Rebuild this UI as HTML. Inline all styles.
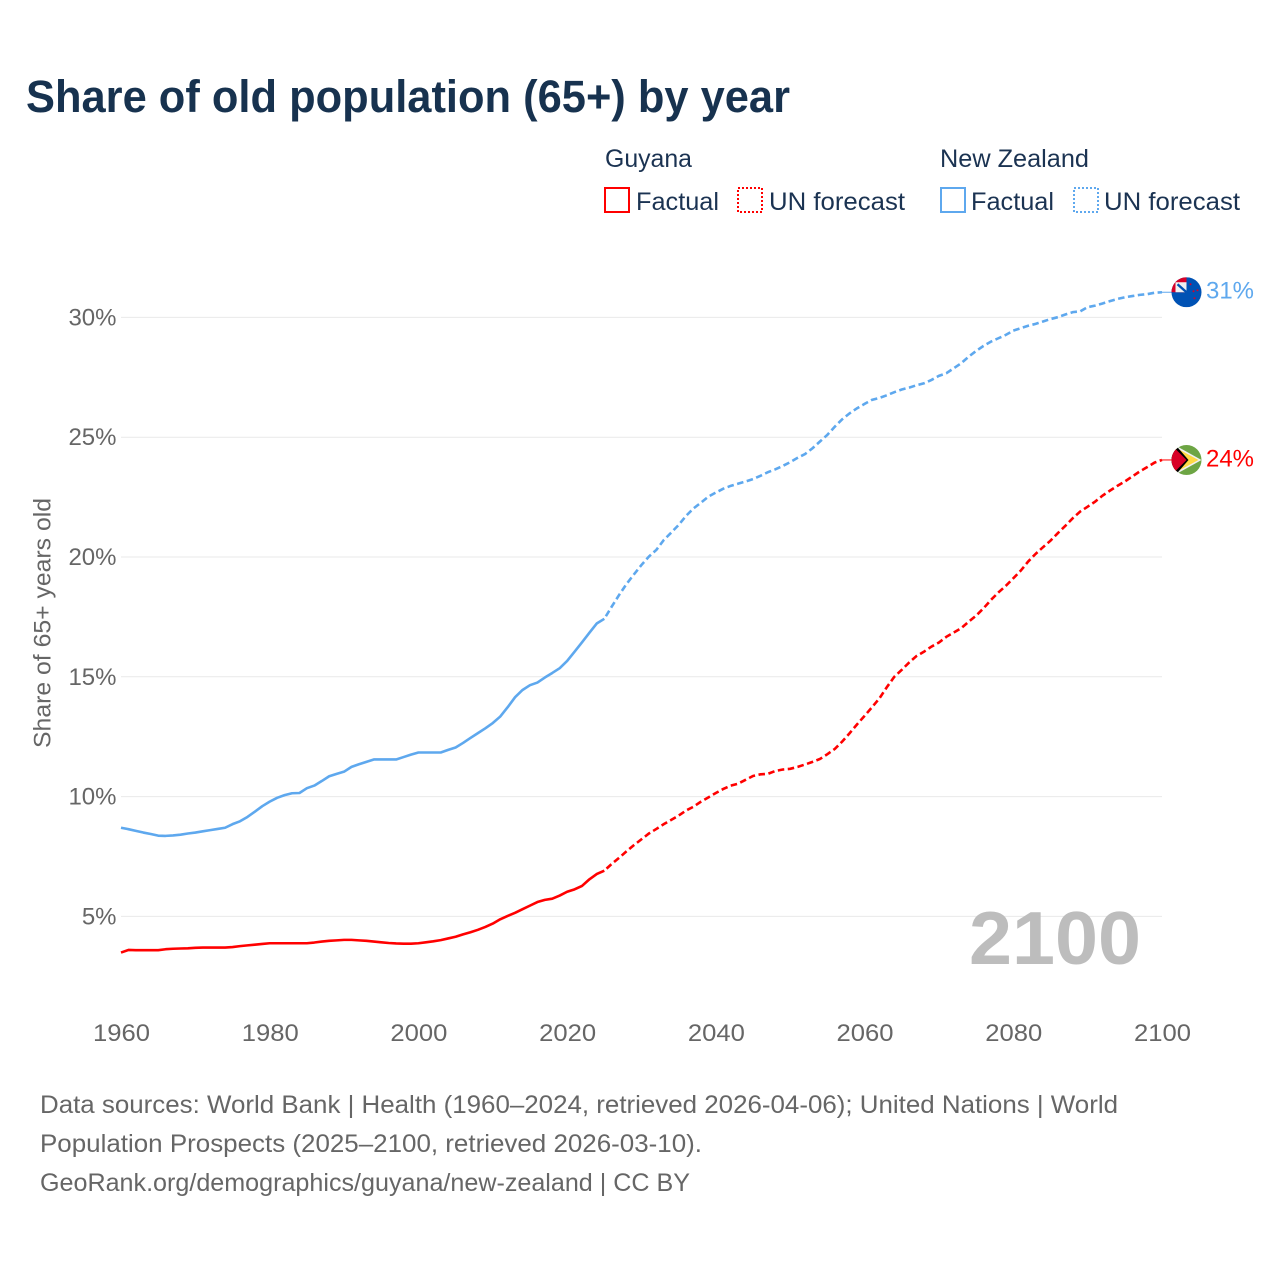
<!DOCTYPE html>
<html lang="en">
<head>
<meta charset="utf-8">
<title>Share of old population (65+) by year</title>
<style>
html,body{margin:0;padding:0;background:#fff;}
svg{display:block;font-family:"Liberation Sans",sans-serif;}
</style>
</head>
<body>
<svg id="chart" xmlns="http://www.w3.org/2000/svg" width="1280" height="1280" viewBox="0 0 1280 1280">
  <rect x="0" y="0" width="1280" height="1280" fill="#fff"/>
  <text x="26" y="112" font-size="45" font-weight="700" fill="#17324f" textLength="764" lengthAdjust="spacingAndGlyphs">Share of old population (65+) by year</text>

  <g font-size="25" fill="#1b3352">
    <text x="605" y="167" textLength="87" lengthAdjust="spacingAndGlyphs">Guyana</text>
    <text x="940" y="167" textLength="149" lengthAdjust="spacingAndGlyphs">New Zealand</text>
    <g>
      <rect x="605" y="188" width="24" height="24" fill="none" stroke="#ff0000" stroke-width="2"/>
      <text x="636" y="210" textLength="83" lengthAdjust="spacingAndGlyphs">Factual</text>
    </g>
    <g>
      <rect x="738" y="188" width="24" height="24" fill="none" stroke="#ff0000" stroke-width="2" stroke-dasharray="2 2"/>
      <text x="769" y="210" textLength="136" lengthAdjust="spacingAndGlyphs">UN forecast</text>
    </g>
    <g>
      <rect x="941" y="188" width="24" height="24" fill="none" stroke="#5ea8ee" stroke-width="2"/>
      <text x="971" y="210" textLength="83" lengthAdjust="spacingAndGlyphs">Factual</text>
    </g>
    <g>
      <rect x="1074" y="188" width="24" height="24" fill="none" stroke="#5ea8ee" stroke-width="2" stroke-dasharray="2 2"/>
      <text x="1104" y="210" textLength="136" lengthAdjust="spacingAndGlyphs">UN forecast</text>
    </g>
  </g>

  <g id="grid"></g>
  <g id="yLabels"></g>
  <g id="xLabels"></g>
  <text transform="translate(50.5,623) rotate(-90)" text-anchor="middle" font-size="24.5" fill="#666" textLength="250" lengthAdjust="spacingAndGlyphs">Share of 65+ years old</text>
  <text id="yearWatermark" x="969" y="964" font-size="75" font-weight="700" fill="#bdbdbd" textLength="172" lengthAdjust="spacingAndGlyphs"></text>

  <g id="series"></g>
  <g id="endMarks"></g>

  <g font-size="25" fill="#666">
    <text x="40" y="1113" textLength="1078" lengthAdjust="spacingAndGlyphs">Data sources: World Bank | Health (1960–2024, retrieved 2026-04-06); United Nations | World</text>
    <text x="40" y="1152" textLength="662" lengthAdjust="spacingAndGlyphs">Population Prospects (2025–2100, retrieved 2026-03-10).</text>
    <text x="40" y="1191" textLength="650" lengthAdjust="spacingAndGlyphs">GeoRank.org/demographics/guyana/new-zealand | CC BY</text>
  </g>

  <defs>
    <clipPath id="flagClipNz"><circle cx="15" cy="15" r="15"/></clipPath>
    <clipPath id="flagClipGy"><circle cx="15" cy="15" r="15"/></clipPath>
  </defs>
</svg>

<script>
var yTicks = [5, 10, 15, 20, 25, 30];
var xTicks = [1960, 1980, 2000, 2020, 2040, 2060, 2080, 2100];
var factualStartYear = [1960];
var forecastStartYear = [2025];

var guyanaFactual = [3.49,3.6,3.59,3.59,3.59,3.59,3.63,3.65,3.66,3.67,3.69,3.7,3.7,3.7,3.7,3.72,3.76,3.79,3.82,3.85,3.88,3.88,3.88,3.88,3.88,3.88,3.91,3.95,3.98,4.0,4.02,4.02,4.0,3.98,3.95,3.92,3.89,3.87,3.86,3.86,3.88,3.92,3.96,4.01,4.08,4.15,4.25,4.34,4.44,4.56,4.7,4.88,5.02,5.15,5.3,5.45,5.6,5.69,5.74,5.87,6.03,6.13,6.27,6.55,6.77,6.91];
var guyanaForecast = [6.91,7.19,7.45,7.72,7.98,8.22,8.46,8.65,8.85,9.03,9.21,9.42,9.58,9.79,9.97,10.15,10.32,10.46,10.54,10.7,10.86,10.93,10.95,11.07,11.13,11.16,11.24,11.34,11.45,11.57,11.77,11.99,12.3,12.65,13.02,13.37,13.73,14.1,14.57,15.0,15.29,15.6,15.87,16.05,16.26,16.43,16.67,16.85,17.03,17.3,17.55,17.86,18.21,18.52,18.8,19.11,19.43,19.81,20.13,20.41,20.68,21.0,21.3,21.62,21.9,22.1,22.31,22.56,22.77,22.97,23.15,23.36,23.57,23.75,23.94,24.05];
var newZealandFactual = [8.7,8.64,8.57,8.5,8.44,8.37,8.36,8.38,8.41,8.46,8.5,8.55,8.6,8.65,8.7,8.85,8.97,9.15,9.37,9.6,9.79,9.95,10.06,10.14,10.15,10.35,10.46,10.65,10.85,10.95,11.04,11.24,11.35,11.45,11.55,11.55,11.55,11.55,11.65,11.75,11.84,11.84,11.84,11.84,11.95,12.05,12.24,12.45,12.65,12.85,13.07,13.34,13.73,14.15,14.45,14.65,14.76,14.97,15.16,15.36,15.66,16.05,16.44,16.84,17.23,17.42];
var newZealandForecast = [17.42,17.93,18.42,18.88,19.28,19.67,20.02,20.3,20.71,21.02,21.34,21.72,22.03,22.27,22.52,22.69,22.85,22.97,23.06,23.15,23.25,23.39,23.54,23.66,23.8,23.96,24.14,24.3,24.54,24.82,25.1,25.44,25.75,26.0,26.21,26.39,26.56,26.64,26.75,26.88,26.99,27.07,27.17,27.25,27.39,27.56,27.67,27.88,28.09,28.36,28.6,28.81,28.99,29.13,29.27,29.45,29.55,29.65,29.73,29.83,29.93,30.01,30.12,30.22,30.25,30.43,30.49,30.58,30.68,30.77,30.84,30.89,30.94,30.97,31.03,31.05];

var SVG_NS = 'http://www.w3.org/2000/svg';
var RED = '#ff0000';
var BLUE = '#5ea8ee';

function xScale(year) { return 121 + (year - 1960) * (1162 - 121) / (2100 - 1960); }
function yScale(value) { return 916.4 - (value - 5) * 23.96; }
function make(tag, parent) {
  var el = document.createElementNS(SVG_NS, tag);
  parent.appendChild(el);
  return el;
}
function pathFor(values, startYear) {
  return values.map(function (v, i) {
    return (i ? 'L' : 'M') + xScale(startYear + i).toFixed(2) + ' ' + yScale(v).toFixed(2);
  }).join(' ');
}

var grid = document.getElementById('grid');
var yLabels = document.getElementById('yLabels');
var xLabels = document.getElementById('xLabels');
var series = document.getElementById('series');
var endMarks = document.getElementById('endMarks');

yTicks.forEach(function (tick) {
  var line = make('line', grid);
  
  
  line.setAttribute('x1', xScale(xTicks[0]));
  line.setAttribute('x2', xScale(xTicks[xTicks.length - 1]));
  line.setAttribute('y1', yScale(tick));
  line.setAttribute('y2', yScale(tick));
  line.setAttribute('stroke', '#e9e9e9');
  line.setAttribute('stroke-width', '1');

  var label = make('text', yLabels);
  
  
  label.setAttribute('x', 116.5);
  label.setAttribute('y', yScale(tick) + 8);
  label.setAttribute('text-anchor', 'end');
  label.setAttribute('font-size', '24');
  label.setAttribute('fill', '#666');
  label.textContent = tick + '%';
});

xTicks.forEach(function (tick) {
  var label = make('text', xLabels);
  
  
  label.setAttribute('x', xScale(tick) + 0.5);
  label.setAttribute('y', 1041);
  label.setAttribute('text-anchor', 'middle');
  label.setAttribute('font-size', '24.5');
  label.setAttribute('fill', '#666');
  label.setAttribute('textLength', '57');
  label.setAttribute('lengthAdjust', 'spacingAndGlyphs');
  label.textContent = tick;
});

document.getElementById('yearWatermark').textContent = xTicks[xTicks.length - 1];

function drawSeries(key, color, factual, forecast) {
  var solid = make('path', series);
  
  
  solid.setAttribute('d', pathFor(factual, factualStartYear[0]));
  solid.setAttribute('fill', 'none');
  solid.setAttribute('stroke', color);
  solid.setAttribute('stroke-width', '2.6');
  solid.setAttribute('stroke-linejoin', 'round');

  var dashed = make('path', series);
  
  
  dashed.setAttribute('d', pathFor(forecast, forecastStartYear[0]));
  dashed.setAttribute('fill', 'none');
  dashed.setAttribute('stroke', color);
  dashed.setAttribute('stroke-width', '2.6');
  dashed.setAttribute('stroke-dasharray', '6.5 3.5');
  dashed.setAttribute('stroke-dashoffset', '-3');

  var last = forecast[forecast.length - 1];
  var connector = make('line', series);
  
  
  connector.setAttribute('x1', xScale(2100));
  connector.setAttribute('x2', 1172);
  connector.setAttribute('y1', yScale(last));
  connector.setAttribute('y2', yScale(last));
  connector.setAttribute('stroke', color);
  connector.setAttribute('stroke-width', '1');

  var label = make('text', endMarks);
  
  
  label.setAttribute('x', 1206);
  label.setAttribute('y', yScale(last) + 6.5);
  label.setAttribute('font-size', '24.5');
  label.setAttribute('fill', color);
  label.setAttribute('textLength', '48');
  label.setAttribute('lengthAdjust', 'spacingAndGlyphs');
  label.textContent = Math.round(last) + '%';
}
drawSeries('guyana', RED, guyanaFactual, guyanaForecast);
drawSeries('new-zealand', BLUE, newZealandFactual, newZealandForecast);

function drawFlag(key, clipId, value, markup) {
  var g = make('g', endMarks);
  
  
  g.setAttribute('clip-path', 'url(#' + clipId + ')');
  g.setAttribute('transform', 'translate(1171.5,' + (yScale(value) - 15).toFixed(2) + ')');
  g.innerHTML = markup;
}
drawFlag('new-zealand', 'flagClipNz', newZealandForecast[newZealandForecast.length - 1],
  '<rect width="30" height="30" fill="#0052b4"/>' +
  '<rect width="15" height="15" fill="#d80027"/>' +
  '<rect x="4" y="5" width="11" height="10" fill="#f0f0f0"/>' +
  '<path d="M6 7 L15 15" stroke="#0052b4" stroke-width="2.4" fill="none"/>' +
  '<circle cx="19" cy="7" r="1" fill="#d80027"/><circle cx="26" cy="13" r="1" fill="#d80027"/>' +
  '<circle cx="22" cy="14" r="1" fill="#d80027"/><circle cx="23" cy="21" r="1" fill="#d80027"/>');
drawFlag('guyana', 'flagClipGy', guyanaForecast[guyanaForecast.length - 1],
  '<rect width="30" height="30" fill="#6da544"/>' +
  '<path d="M3 0 L30 15 L3 30 Z" fill="#f0f0f0"/>' +
  '<path d="M3 2 L27 15 L3 28 Z" fill="#ffda44"/>' +
  '<path d="M0 0 L4 0 L17 15 L4 30 L0 30 Z" fill="#000"/>' +
  '<path d="M0 2 L2 2 L15 15 L2 28 L0 28 Z" fill="#d80027"/>');
</script>
</body>
</html>
